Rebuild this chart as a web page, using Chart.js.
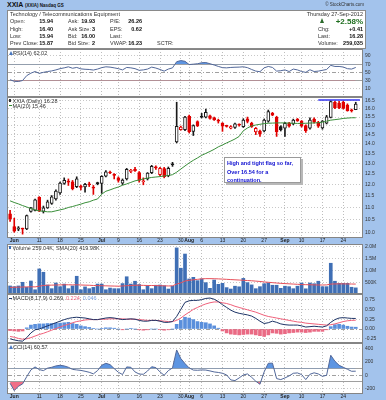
<!DOCTYPE html>
<html><head><meta charset="utf-8">
<script src="https://cdn.jsdelivr.net/npm/chart.js@4.4.0/dist/chart.umd.min.js"></script>
<style>
html,body{margin:0;padding:0;width:386px;height:400px;overflow:hidden;background:#a3c3ec;font-family:"Liberation Sans",Arial,sans-serif;}
canvas{position:absolute;left:0;}
.t{position:absolute;white-space:nowrap;font-size:5.5px;line-height:6px;color:#333;z-index:5;}
.b{font-weight:bold;color:#111;}
.box{position:absolute;background:#fff;border:1px solid #8a8a8a;box-sizing:border-box;}
</style></head><body>

<div class="t b" style="left:7px;top:1px;font-size:7px;line-height:8px;">XXIA <span style="font-size:4.5px;">(XXIA) Nasdaq GS</span></div>
<div class="t" style="right:22px;top:2px;font-size:4.5px;">© StockCharts.com</div>

<div class="box" style="left:7px;top:10px;width:359px;height:39px;"></div>
<div class="t" style="left:10px;top:11px;">Technology / Telecommunications Equipment</div>
<div class="t" style="right:23px;top:11px;">Thursday 27-Sep-2012</div>

<div class="t" style="left:10px;top:18px;">Open:</div><div class="t b" style="right:333px;top:18px;">15.94</div>
<div class="t" style="left:68px;top:18px;">Ask:</div><div class="t b" style="right:291px;top:18px;">19.93</div>
<div class="t" style="left:110px;top:18px;">P/E:</div><div class="t b" style="right:244px;top:18px;">26.26</div>

<div class="t" style="left:10px;top:25.5px;">High:</div><div class="t b" style="right:333px;top:25.5px;">16.40</div>
<div class="t" style="left:68px;top:25.5px;">Ask Size:</div><div class="t b" style="right:291px;top:25.5px;">3</div>
<div class="t" style="left:110px;top:25.5px;">EPS:</div><div class="t b" style="right:244px;top:25.5px;">0.62</div>

<div class="t" style="left:10px;top:33px;">Low:</div><div class="t b" style="right:333px;top:33px;">15.94</div>
<div class="t" style="left:68px;top:33px;">Bid:</div><div class="t b" style="right:291px;top:33px;">16.00</div>
<div class="t" style="left:110px;top:33px;">Last:</div>

<div class="t" style="left:10px;top:40px;">Prev Close:</div><div class="t b" style="right:333px;top:40px;">15.87</div>
<div class="t" style="left:68px;top:40px;">Bid Size:</div><div class="t b" style="right:291px;top:40px;">2</div>
<div class="t" style="left:110px;top:40px;">VWAP:</div><div class="t b" style="right:244px;top:40px;">16.23</div>
<div class="t" style="left:157px;top:40px;">SCTR:</div>

<div style="position:absolute;left:320px;top:18px;width:0;height:0;border-left:2.5px solid transparent;border-right:2.5px solid transparent;border-bottom:5px solid #2b6a2b;z-index:5;"></div>
<div class="t b" style="right:23px;top:16.5px;font-size:8px;line-height:9px;color:#1f6e1f;">+2.58%</div>
<div class="t" style="left:318px;top:25.5px;">Chg:</div><div class="t b" style="right:23px;top:25.5px;">+0.41</div>
<div class="t" style="left:318px;top:33px;">Last:</div><div class="t b" style="right:23px;top:33px;">16.28</div>
<div class="t" style="left:318px;top:40px;">Volume:</div><div class="t b" style="right:23px;top:40px;">259,035</div>

<canvas id="cRsi" width="386" height="48" style="top:49px"></canvas>
<canvas id="cPrice" width="386" height="147" style="top:97px"></canvas>
<canvas id="cVol" width="386" height="50" style="top:244px"></canvas>
<canvas id="cMacd" width="386" height="49" style="top:294px"></canvas>
<canvas id="cCci" width="386" height="57" style="top:343px"></canvas>

<div style="position:absolute;left:9px;top:50.5px;width:0;height:0;border-left:2px solid transparent;border-right:2px solid transparent;border-bottom:4px solid #4a78c0;z-index:5;"></div>
<div class="t" style="left:13px;top:49.5px;">RSI(14) 62.02</div>

<div style="position:absolute;left:9px;top:98.5px;width:2px;height:3px;background:#333;z-index:5;"></div>
<div class="t" style="left:12.5px;top:97.5px;">XXIA (Daily) 16.28</div>
<div style="position:absolute;left:9px;top:105px;width:3px;height:1px;background:#2e8b2e;z-index:5;"></div>
<div class="t" style="left:12.5px;top:102.5px;">MA(20) 15.46</div>

<div style="position:absolute;left:9px;top:245.5px;width:2px;height:3px;background:#3f6fb5;z-index:5;"></div>
<div class="t" style="left:12.5px;top:244.5px;">Volume 259.04K, SMA(20) 419.98K</div>

<div style="position:absolute;left:9px;top:297.5px;width:3px;height:1px;background:#1d3466;z-index:5;"></div>
<div class="t" style="left:12.5px;top:294.5px;">MACD(8,17,9) 0.269, <span style="color:#f0607a">0.224,</span> <span style="color:#7aa0e0">0.046</span></div>

<div style="position:absolute;left:9px;top:344.5px;width:0;height:0;border-left:2px solid transparent;border-right:2px solid transparent;border-bottom:4px solid #4a78c0;z-index:5;"></div>
<div class="t" style="left:13px;top:343.5px;">CCI(14) 60.57</div>

<div style="position:absolute;left:224px;top:157px;width:77px;height:26px;background:#fff;border:1px solid #9a9a9a;box-shadow:2px 2px 0 #b8b8b8;box-sizing:border-box;z-index:4;"></div>
<div class="t" style="left:227px;top:159px;color:#1010d0;font-weight:bold;line-height:8.5px;font-size:5.5px;">High and tight flag so far,<br>Over 16.54 for a<br>continuation.</div>

<script>
// ---------- DATA ----------
const days = ['May 31','Jun 1','Jun 4','Jun 5','Jun 6','Jun 7','Jun 8','Jun 11','Jun 12','Jun 13','Jun 14','Jun 15',
 'Jun 18','Jun 19','Jun 20','Jun 21','Jun 22','Jun 25','Jun 26','Jun 27','Jun 28','Jun 29',
 'Jul 2','Jul 3','Jul 5','Jul 6','Jul 9','Jul 10','Jul 11','Jul 12','Jul 13','Jul 16','Jul 17','Jul 18','Jul 19','Jul 20',
 'Jul 23','Jul 24','Jul 25','Jul 26','Jul 27','Jul 30','Jul 31','Aug 1','Aug 2','Aug 3','Aug 6','Aug 7','Aug 8','Aug 9','Aug 10',
 'Aug 13','Aug 14','Aug 15','Aug 16','Aug 17','Aug 20','Aug 21','Aug 22','Aug 23','Aug 24','Aug 27','Aug 28','Aug 29','Aug 30','Aug 31',
 'Sep 4','Sep 5','Sep 6','Sep 7','Sep 10','Sep 11','Sep 12','Sep 13','Sep 14','Sep 17','Sep 18','Sep 19','Sep 20','Sep 21',
 'Sep 24','Sep 25','Sep 26','Sep 27'];

const tickDays = ['Jun 1','Jun 11','Jun 18','Jun 25','Jul 2','Jul 9','Jul 16','Jul 23','Jul 30','Aug 1','Aug 6','Aug 13','Aug 20','Aug 27','Sep 4','Sep 10','Sep 17','Sep 24'];
const tickText = ['Jun','11','18','25','Jul','9','16','23','30','Aug','6','13','20','27','Sep','10','17','24'];
const monthTicks = ['Jun','Jul','Aug','Sep'];

const openP = [10.73,10.22,10.12,10.14,10.13,10.83,10.87,11.42,10.83,10.97,11.16,11.35,
 11.62,12.04,12.15,12.12,11.90,11.92,11.88,12.02,11.86,12.08,
 12.04,12.38,12.56,12.45,12.30,12.05,12.25,12.60,12.70,12.55,12.12,12.25,12.55,12.82,
 12.45,12.74,12.40,12.98,14.10,14.78,14.78,15.55,14.68,15.24,15.53,15.50,15.58,15.45,15.32,
 15.13,15.00,14.86,14.90,15.06,14.95,15.39,15.14,14.65,14.70,14.70,15.26,15.72,15.48,14.95,
 14.86,15.14,15.10,15.38,15.27,15.00,14.86,15.38,15.20,14.87,15.14,15.48,16.40,16.34,
 16.40,16.22,15.90,15.94];
const highP = [10.87,10.55,10.22,10.16,10.68,11.00,11.35,11.45,11.05,11.30,11.50,11.75,
 12.10,12.30,12.25,12.18,12.35,11.97,12.05,12.10,11.95,12.10,
 12.40,12.65,12.62,12.50,12.35,12.25,12.75,12.70,12.80,12.60,12.30,12.55,12.90,12.88,
 12.80,12.80,12.82,13.05,16.40,14.98,15.55,15.62,15.05,15.28,15.72,15.98,15.62,15.50,15.38,
 15.18,15.03,15.00,15.15,15.10,15.40,15.50,15.20,14.90,14.75,15.38,15.92,15.78,15.55,15.00,
 15.20,15.20,15.38,15.42,15.30,15.05,15.45,15.45,15.25,15.30,15.60,16.50,16.48,16.45,
 16.48,16.30,15.98,16.40];
const lowP = [10.42,10.00,10.06,9.93,10.10,10.80,10.85,10.82,10.76,10.95,11.12,11.30,
 11.55,12.00,11.95,11.75,11.85,11.75,11.65,11.90,11.55,11.98,
 11.60,12.35,12.50,12.25,12.10,11.98,12.20,12.55,12.60,12.10,11.98,12.20,12.50,12.70,
 12.40,12.30,12.35,12.85,14.05,14.75,14.72,14.60,14.45,14.95,15.45,15.45,15.38,15.30,15.15,
 14.68,14.92,14.82,14.85,14.98,14.90,15.16,14.90,14.50,14.40,14.65,15.20,15.58,14.40,14.70,
 14.40,14.92,15.05,15.25,14.92,14.62,14.80,15.15,14.90,14.80,15.10,15.45,16.00,16.00,
 15.98,15.85,15.80,15.94];
const closeP = [10.52,10.04,10.17,10.12,10.66,10.98,11.31,10.84,10.98,11.23,11.44,11.70,
 12.06,12.18,12.10,11.80,12.25,11.86,12.00,11.98,11.83,12.03,
 12.37,12.58,12.53,12.42,12.18,12.20,12.70,12.66,12.64,12.18,12.16,12.52,12.85,12.78,
 12.75,12.36,12.76,12.93,14.96,14.92,15.50,14.66,15.00,14.99,15.49,15.78,15.42,15.34,15.26,
 14.97,14.96,14.95,15.10,15.03,15.32,15.25,14.95,14.85,14.52,15.32,15.82,15.62,14.66,14.77,
 15.14,14.97,15.32,15.28,14.97,14.72,15.32,15.22,14.98,15.27,15.52,16.44,16.07,16.05,
 16.02,15.88,15.87,16.28];
const ma20 = [11.27,11.20,11.14,11.07,11.01,10.94,10.89,10.85,10.83,10.81,10.81,10.85,
 10.89,10.93,10.99,11.03,11.08,11.13,11.19,11.23,11.30,11.35,
 11.56,11.69,11.75,11.82,11.88,11.96,12.02,12.09,12.16,12.20,12.25,12.29,12.32,12.34,
 12.36,12.39,12.41,12.45,12.57,12.72,12.87,13.02,13.15,13.27,13.40,13.50,13.60,13.71,13.84,
 13.94,14.05,14.15,14.26,14.40,14.71,14.87,14.99,15.04,15.08,15.12,15.14,15.15,15.16,15.16,
 15.16,15.15,15.14,15.13,15.13,15.14,15.15,15.16,15.17,15.20,15.26,15.32,15.35,15.38,
 15.42,15.44,15.46,15.46];
const flagLevel = 16.54;
const flagFrom = 'Sep 14';
const priceTicks = [10.0,10.5,11.0,11.5,12.0,12.5,13.0,13.5,14.0,14.5,15.0,15.5,16.0,16.5];

const volume = [340,310,340,495,280,550,180,1060,920,380,
 225,465,310,420,225,340,750,180,300,225,
 280,420,420,180,250,225,225,440,730,420,
 540,400,180,355,225,370,380,350,210,330,
 1950,1090,1690,635,705,565,640,480,240,590,
 410,450,270,210,330,305,660,480,385,225,
 310,435,470,370,370,240,330,310,225,330,
 465,220,465,435,540,310,310,1300,540,450,
 450,450,285,259].map(v => v * 1000);
const volSma20 = [280,285,290,295,300,305,300,330,360,370,375,380,385,
 390,390,385,390,380,375,370,360,
 355,350,345,340,335,330,340,350,360,370,
 370,365,360,360,355,350,345,340,345,
 420,470,550,580,600,620,640,650,650,645,640,
 630,620,610,600,590,580,570,560,545,530,
 510,495,480,465,450,440,430,420,410,400,
 395,390,385,380,380,385,420,425,430,428,425,422,420].map(v => v * 1000);
const volTicks = [500000,1000000,1500000,2000000];

const rsi14 = [32,28,27.6,30,42,48,52,47.5,50,52,53.5,56,59,61,63.5,60,62,58.5,57.5,57,55.6,58,
 61.5,63.5,62.8,61,59,56,62,61,59,55,56,58,62.8,60.5,57,53,58,61,
 76,78.8,77,69,70,71,73.5,74,71,68,64.5,61.5,61,62,62.5,62.8,63.6,61.5,57,53,51.6,
 61,64.4,62,53,54,56,52,58,56,52,50,56.4,52,53,55,57,67,64.4,64.4,63,59,58,62];
const rsiTicks = [10,30,50,70,90];

const macdLine = [-0.25,-0.28,-0.30,-0.31,-0.22,-0.10,-0.02,0.00,0.04,0.08,0.12,0.16,0.20,0.24,0.27,0.29,0.30,0.29,0.28,0.26,0.24,0.24,
 0.26,0.28,0.29,0.28,0.26,0.24,0.25,0.26,0.25,0.22,0.20,0.20,0.22,0.22,0.20,0.17,0.17,0.19,
 0.32,0.50,0.68,0.72,0.73,0.73,0.75,0.78,0.79,0.76,0.70,0.62,0.55,0.48,0.43,0.40,0.38,0.36,0.33,0.27,0.20,
 0.14,0.16,0.20,0.17,0.13,0.11,0.10,0.10,0.10,0.08,0.05,0.06,0.07,0.06,0.05,0.08,0.17,0.24,0.28,0.29,0.28,0.27,0.269];
const macdSignal = [-0.19,-0.21,-0.24,-0.26,-0.25,-0.22,-0.18,-0.14,-0.11,-0.07,-0.03,0.01,0.05,0.09,0.12,0.16,0.19,0.21,0.23,0.24,0.24,0.24,
 0.25,0.25,0.26,0.26,0.26,0.26,0.25,0.25,0.25,0.24,0.23,0.22,0.22,0.22,0.21,0.20,0.19,0.19,
 0.22,0.28,0.36,0.43,0.50,0.55,0.60,0.64,0.67,0.69,0.69,0.67,0.65,0.62,0.58,0.55,0.52,0.49,0.46,0.43,0.39,
 0.35,0.32,0.30,0.28,0.26,0.24,0.22,0.20,0.18,0.17,0.15,0.14,0.13,0.12,0.11,0.10,0.11,0.13,0.16,0.19,0.21,0.22,0.224];
const macdHist = [-0.04,-0.05,-0.06,-0.05,0.03,0.10,0.12,0.13,0.13,0.14,0.14,0.15,0.15,0.16,0.17,0.14,0.12,0.08,0.06,0.04,0.01,0.00,
 0.01,0.03,0.03,0.02,0.00,-0.02,0.00,0.01,0.00,-0.02,-0.03,-0.02,0.00,0.00,-0.01,-0.03,-0.02,0.00,
 0.12,0.22,0.30,0.28,0.24,0.19,0.17,0.16,0.13,0.08,0.02,-0.05,-0.10,-0.13,-0.14,-0.15,-0.14,-0.13,-0.13,-0.15,-0.17,
 -0.19,-0.15,-0.10,-0.11,-0.13,-0.12,-0.10,-0.09,-0.08,-0.08,-0.09,-0.08,-0.06,-0.06,-0.06,-0.02,0.06,0.11,0.12,0.10,0.07,0.05,0.046];
const macdTicks = [-0.25,0,0.25,0.5,0.75];

const cci14 = [-120,-230,-165,-130,-20,80,125,85,70,107,120,140,150,140,120,88,80,73,60,45,21,70,
 150,180,160,100,45,11,125,120,50,18,15,64,128,115,50,0,70,110,
 380,250,175,110,78,75,80,78,65,50,42,30,5,-70,-80,-40,5,20,-30,-90,-135,
 50,180,182,-50,-65,-40,-10,30,35,10,-65,15,37,20,-16,0,300,210,150,120,90,60,61];
const cciTicks = [-200,-100,0,100,200,400];

// ---------- HELPERS ----------
Chart.defaults.font.family = '"Liberation Sans", Arial, sans-serif';
const labels = days.concat(['']);
const tickIdx = {};
tickDays.forEach((d, k) => { tickIdx[days.indexOf(d)] = tickText[k]; });

const panelPlugin = {
  id: 'panel',
  beforeDraw(chart) {
    const {ctx, chartArea: a} = chart;
    ctx.save(); ctx.fillStyle = '#ffffff';
    ctx.fillRect(a.left, a.top, a.right - a.left, a.bottom - a.top); ctx.restore();
  },
  afterDraw(chart) {
    const {ctx, chartArea: a} = chart;
    ctx.save(); ctx.strokeStyle = '#858585'; ctx.lineWidth = 1;
    ctx.strokeRect(Math.round(a.left) - 0.5, Math.round(a.top) + 0.5, Math.round(a.right - a.left) + 1, Math.round(a.bottom - a.top) - 1);
    ctx.restore();
  }
};
Chart.register(panelPlugin);

function xAxis(showLabels) {
  return {
    type: 'category', offset: true,
    grid: { offset: false, drawTicks: false, lineWidth: 1,
      color: c => (tickIdx[c.index] !== undefined) ? '#bdbdbd' : 'rgba(0,0,0,0)' },
    border: { display: false, dash: [1, 2] },
    ticks: { display: showLabels, autoSkip: false, maxRotation: 0, minRotation: 0, padding: 0, color: '#222',
      font: c => ({ size: 5, weight: monthTicks.includes(tickIdx[c.index]) ? 'bold' : 'normal' }),
      callback: (v, i) => tickIdx[i] || '' },
    afterFit: s => { s.height = showLabels ? 6 : 0; s.paddingLeft = 0; s.paddingRight = 0; }
  };
}
function yAxis(opt) {
  return {
    type: opt.type || 'linear', position: 'right', min: opt.min, max: opt.max,
    afterBuildTicks: s => { s.ticks = opt.ticks.map(v => ({ value: v })); },
    afterFit: s => { s.width = 24; s.paddingTop = 0; s.paddingBottom = 0; },
    grid: { drawTicks: false, lineWidth: 1, color: c => opt.style(c.tick.value).color },
    border: { display: false, dash: c => opt.style(c.tick.value).dash },
    ticks: { padding: 3, color: '#333', font: { size: 5 }, callback: v => opt.fmt(v) }
  };
}
const dotted = { color: '#c8c8c8', dash: [1, 2] };
const solidRef = { color: '#a0a0a0', dash: [] };
const dashDot = { color: '#a0a0a0', dash: [4, 2, 1, 2] };
const base = {
  responsive: false, animation: false, devicePixelRatio: 1, events: [],
  layout: { padding: { left: 8, right: 0, top: 0, bottom: 0 } },
  plugins: { legend: { display: false }, tooltip: { enabled: false } }
};
function opts(x, y) { return Object.assign({}, base, { scales: { x: x, y: y } }); }

// ---------- RSI ----------
new Chart(document.getElementById('cRsi'), {
  type: 'line',
  data: { labels, datasets: [
    { data: rsi14, borderColor: '#52689a', borderWidth: 1, pointRadius: 0,
      fill: { target: { value: 70 }, above: '#5d95e2', below: 'rgba(0,0,0,0)' } },
    { data: rsi14, borderColor: 'rgba(0,0,0,0)', borderWidth: 0, pointRadius: 0,
      fill: { target: { value: 30 }, above: 'rgba(0,0,0,0)', below: '#e8607a' } }
  ]},
  options: opts(xAxis(false), yAxis({ min: -10.3, max: 107.1, ticks: rsiTicks, fmt: v => String(v),
    style: v => (v === 70 || v === 30) ? solidRef : (v === 50 ? dashDot : dotted) }))
});

// ---------- PRICE ----------
const up = closeP.map((c, i) => i === 0 ? c >= openP[i] : c >= closeP[i - 1]);
const candleCol = up.map(u => u ? '#1a1a1a' : '#e00000');
const bodyCol = closeP.map((c, i) => c > openP[i] ? '#ffffff' : candleCol[i]);
const bodies = closeP.map((c, i) => [openP[i], c]);
const wicks = highP.map((h, i) => [lowP[i], h]);
const fromIdx = days.indexOf(flagFrom);
const flagLine = labels.map((l, i) => i >= fromIdx ? flagLevel : null);

new Chart(document.getElementById('cPrice'), {
  type: 'bar',
  data: { labels, datasets: [
    { type: 'line', data: ma20, borderColor: '#3a8f3a', borderWidth: 1, pointRadius: 0, order: 0 },
    { type: 'line', data: flagLine, borderColor: '#3535f0', borderWidth: 1.5, pointRadius: 0, order: 0 },
    { data: bodies, backgroundColor: bodyCol, borderColor: candleCol, borderWidth: 1, borderSkipped: false,
      barThickness: 3, minBarLength: 1, grouped: false, order: 1 },
    { data: wicks, backgroundColor: candleCol, barThickness: 1, grouped: false, order: 2 }
  ]},
  options: opts(xAxis(true), yAxis({ type: 'logarithmic', min: 9.785, max: 16.73, ticks: priceTicks,
    fmt: v => v.toFixed(1), style: () => dotted }))
});

// ---------- VOLUME ----------
new Chart(document.getElementById('cVol'), {
  type: 'bar',
  data: { labels, datasets: [
    { type: 'line', data: volSma20, borderColor: '#e8505a', borderWidth: 1, pointRadius: 0, order: 0 },
    { data: volume, backgroundColor: '#3f6fb5', barThickness: 3, order: 1 }
  ]},
  options: opts(xAxis(false), yAxis({ min: 0, max: 2114000, ticks: volTicks,
    fmt: v => v >= 1000000 ? (v / 1000000).toFixed(1) + 'M' : (v / 1000) + 'K', style: () => dotted }))
});

// ---------- MACD ----------
new Chart(document.getElementById('cMacd'), {
  type: 'bar',
  data: { labels, datasets: [
    { type: 'line', data: macdLine, borderColor: '#1d3466', borderWidth: 1, pointRadius: 0, order: 0 },
    { type: 'line', data: macdSignal, borderColor: '#f0607a', borderWidth: 1, pointRadius: 0, order: 0 },
    { data: macdHist, backgroundColor: macdHist.map(v => v >= 0 ? '#5a8fdc' : '#ea6a84'), barThickness: 3, order: 1 }
  ]},
  options: opts(xAxis(false), yAxis({ min: -0.357, max: 0.893, ticks: macdTicks, fmt: v => v.toFixed(2),
    style: v => v === 0 ? dashDot : dotted }))
});

// ---------- CCI ----------
new Chart(document.getElementById('cCci'), {
  type: 'line',
  data: { labels, datasets: [
    { data: cci14, borderColor: '#52689a', borderWidth: 1, pointRadius: 0,
      fill: { target: { value: 100 }, above: '#5d95e2', below: 'rgba(0,0,0,0)' } },
    { data: cci14, borderColor: 'rgba(0,0,0,0)', borderWidth: 0, pointRadius: 0,
      fill: { target: { value: -100 }, above: 'rgba(0,0,0,0)', below: '#f07088' } }
  ]},
  options: opts(xAxis(true), yAxis({ min: -281, max: 484, ticks: cciTicks,
    fmt: v => (v === 100 || v === -100) ? '' : String(v),
    style: v => (v === 100 || v === -100) ? solidRef : (v === 0 ? dashDot : dotted) }))
});
</script>
</body></html>
